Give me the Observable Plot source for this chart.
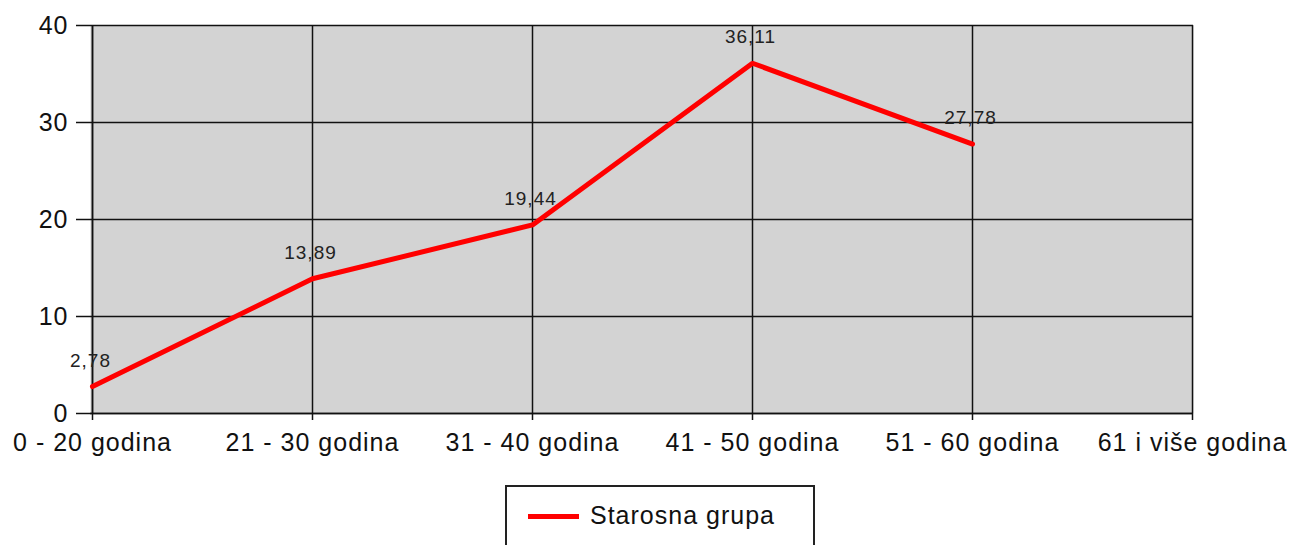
<!DOCTYPE html>
<html>
<head>
<meta charset="utf-8">
<script src="https://cdn.jsdelivr.net/npm/d3@7"></script>
<script src="https://cdn.jsdelivr.net/npm/@observablehq/plot@0.6"></script>
<style>
  html, body { margin: 0; padding: 0; background: white; }
  #chart svg { display: block; }
  #legend {
    margin-top: 15px;
    margin-left: 505px;
    width: 306px;
    height: 80px;
    border: 2px solid #222;
    box-sizing: content-box;
    position: relative;
    font-family: "Liberation Sans", Arial, sans-serif;
    font-size: 25px;
    letter-spacing: 1px;
    color: #111;
  }
  #legend .swatch {
    position: absolute; left: 21px; top: 27px; width: 51px; height: 5px; background: #ff0000;
  }
  #legend .label { position: absolute; left: 83px; top: 14px; }
</style>
</head>
<body>
<div id="chart"></div>
<div id="legend"><div class="swatch"></div><div class="label">Starosna grupa</div></div>
<script>
const categories = ["0 - 20 godina", "21 - 30 godina", "31 - 40 godina", "41 - 50 godina", "51 - 60 godina", "61 i više godina"];
const seriesName = "Starosna grupa";
const values = [2.78, 13.89, 19.44, 36.11, 27.78];
const yTicks = [0, 10, 20, 30, 40];

const data = values.map((v, i) => ({ cat: categories[i], value: v }));
const fmt = v => v.toFixed(2).replace(".", ",");

const chart = Plot.plot({
  width: 1306,
  height: 470,
  marginLeft: 90,
  marginRight: 113,
  marginTop: 25,
  marginBottom: 57,
  style: { fontFamily: "'Liberation Sans', Arial, sans-serif", fontSize: "25px", letterSpacing: "1px", color: "#111", background: "white" },
  x: { type: "point", domain: categories, padding: 0, label: null },
  y: { domain: [0, 40], ticks: yTicks, label: null },
  marks: [
    Plot.frame({ fill: "#d3d3d3", stroke: null }),
    Plot.gridX(categories, { stroke: "#111", strokeOpacity: 1, strokeWidth: 1.5 }),
    Plot.gridY(yTicks, { stroke: "#111", strokeOpacity: 1, strokeWidth: 1.5 }),
    Plot.ruleX([categories[0]], { stroke: "#111", strokeWidth: 1.5 }),
    Plot.ruleY([0], { stroke: "#111", strokeWidth: 1.5 }),
    Plot.axisY(yTicks, { tickSize: 14, tickPadding: 8, fontSize: 25, stroke: "#111", strokeWidth: 1.5, label: null }),
    Plot.axisX(categories, { tickSize: 7, tickPadding: 13, fontSize: 25, stroke: "#111", strokeWidth: 1.5, label: null }),
    Plot.line(data, { x: "cat", y: "value", stroke: "#ff0000", strokeWidth: 5, strokeLinejoin: "miter" }),
    Plot.text(data, { x: "cat", y: "value", text: d => fmt(d.value), dy: -26, dx: -2, fontSize: 19, fill: "#222", letterSpacing: "0.5px" })
  ]
});
document.getElementById("chart").appendChild(chart);
</script>
</body>
</html>
